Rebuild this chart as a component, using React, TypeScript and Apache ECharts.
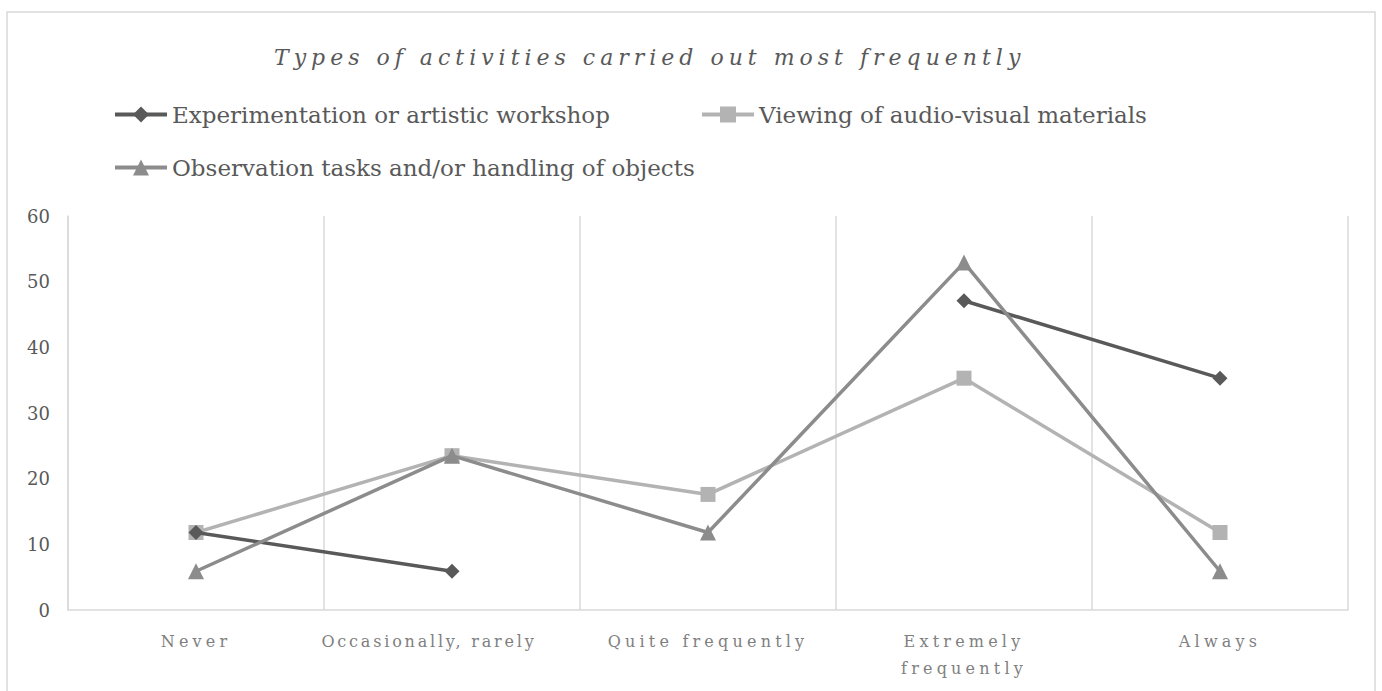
import React, { useEffect, useRef } from "react";
import * as echarts from "echarts";

const categories = ["Never", "Occasionally, rarely", "Quite frequently", "Extremely frequently", "Always"];
const seriesNames = [
  "Experimentation or artistic workshop",
  "Viewing of audio-visual materials",
  "Observation tasks and/or handling of objects",
];
const experimentation = [11.8, 5.9, null, 47.1, 35.3];
const viewing = [11.8, 23.5, 17.6, 35.3, 11.8];
const observation = [5.9, 23.5, 11.8, 52.9, 5.9];
const yTicks = { min: 0, max: 60, interval: 10 };
const titleText = "Types of activities carried out most frequently";

const FONT = "'DejaVu Serif', serif";

export default function App() {
  const ref = useRef<HTMLDivElement>(null);
  useEffect(() => {
    document.body.style.margin = "0";
    const chart = echarts.init(ref.current!, null, { renderer: "svg" });
    const legendText = { color: "#595959", fontSize: 23, fontFamily: FONT };
    const legendCommon = {
      padding: 0,
      itemWidth: 52,
      itemHeight: 20,
      itemGap: 0,
      textStyle: legendText,
      lineStyle: { width: 4 },
    };
    chart.setOption({
      animation: false,
      backgroundColor: "#ffffff",
      graphic: [
        {
          type: "rect",
          shape: { x: 7, y: 12, width: 1368, height: 720 },
          style: { fill: "none", stroke: "#d9d9d9", lineWidth: 1.5 },
          silent: true,
        },
      ],
      title: {
        text: titleText,
        left: 274,
        top: 46,
        padding: 0,
        textStyle: {
          fontFamily: "ttlsp, " + FONT,
          fontStyle: "italic",
          fontWeight: "normal",
          fontSize: 22,
          color: "#595959",
        },
      },
      legend: [
        { ...legendCommon, data: [seriesNames[0]], left: 113, top: 103 },
        { ...legendCommon, data: [seriesNames[1]], left: 700, top: 103 },
        { ...legendCommon, data: [seriesNames[2]], left: 113, top: 156 },
      ],
      grid: { left: 68, right: 34, top: 216, bottom: 81, containLabel: false },
      xAxis: {
        type: "category",
        data: categories.map((c) =>
          c === "Occasionally, rarely"
            ? { value: c, textStyle: { fontFamily: "xlb, " + FONT, padding: [0, 46, 0, 0] } }
            : c
        ),
        boundaryGap: true,
        axisLine: { lineStyle: { color: "#d9d9d9", width: 1.5 } },
        axisTick: { show: false },
        splitLine: { show: true, lineStyle: { color: "#d9d9d9", width: 1.5 } },
        axisLabel: {
          interval: 0,
          margin: 18,
          color: "#808080",
          fontSize: 16,
          lineHeight: 27,
          fontFamily: "xla, " + FONT,
          formatter: (v: string) => (v === "Extremely frequently" ? "Extremely\nfrequently" : v),
        },
      },
      yAxis: {
        type: "value",
        min: yTicks.min,
        max: yTicks.max,
        interval: yTicks.interval,
        axisLine: { show: true, lineStyle: { color: "#d9d9d9", width: 1.5 } },
        axisTick: { show: false },
        splitLine: { show: false },
        axisLabel: { color: "#595959", fontSize: 18, fontFamily: FONT, margin: 18 },
      },
      series: [
        {
          name: seriesNames[0],
          type: "line",
          data: experimentation,
          symbol: "diamond",
          symbolSize: 15,
          connectNulls: false,
          lineStyle: { color: "#595959", width: 3.5 },
          itemStyle: { color: "#595959" },
          z: 3,
        },
        {
          name: seriesNames[1],
          type: "line",
          data: viewing,
          symbol: "rect",
          symbolSize: 15,
          lineStyle: { color: "#b3b3b3", width: 3.5 },
          itemStyle: { color: "#b3b3b3" },
          z: 2,
        },
        {
          name: seriesNames[2],
          type: "line",
          data: observation,
          symbol: "triangle",
          symbolSize: 16,
          lineStyle: { color: "#8c8c8c", width: 3.5 },
          itemStyle: { color: "#8c8c8c" },
          z: 4,
        },
      ],
    });
    return () => chart.dispose();
  }, []);
  return (
    <>
      <style>{`
        text[style*="ttlsp"] { letter-spacing: 5px; }
        text[style*="xla"] { letter-spacing: 4.2px; }
        text[style*="xlb"] { letter-spacing: 2.8px; }
      `}</style>
      <div ref={ref} style={{ width: 1382, height: 691 }} />
    </>
  );
}
